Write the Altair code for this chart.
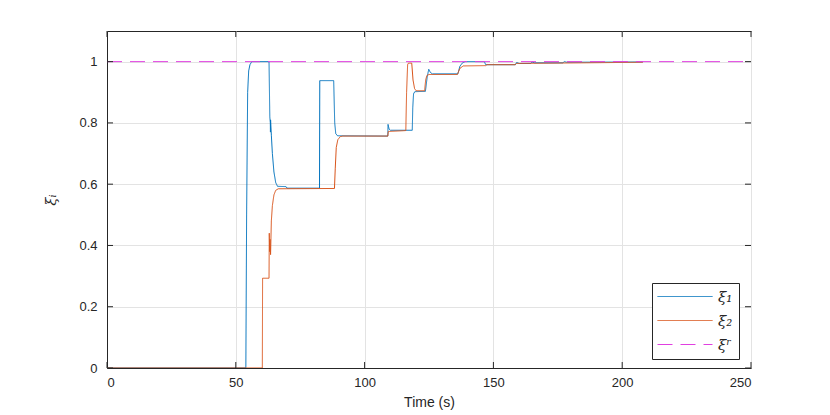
import altair as alt
import pandas as pd

# ---- data ----
t1 = [0, 53.9, 54.2, 54.6, 55.0, 55.5, 56.2, 62.9, 63.2, 63.4, 63.45, 63.5, 63.8, 64.2, 64.8, 65.5, 66.2,
      69.5, 69.9, 82.5, 82.6, 88.0, 88.4, 88.8, 89.5, 109.0, 109.1, 109.5, 110.0, 118.5, 118.7, 119.0, 119.5,
      123.6, 124.3, 124.9, 125.5, 126.3, 136.2, 137.0, 138.0, 139.0, 146.5, 147.0, 148.0, 158.5, 159.0, 160.0,
      164.5, 165.0, 166.0, 177.0, 177.5, 178.5, 208.0]
v1 = [0, 0, 0.5, 0.9, 0.97, 0.99, 1.0, 1.0, 0.82, 0.80, 0.77, 0.81, 0.76, 0.70, 0.64, 0.605, 0.593,
      0.592, 0.587, 0.587, 0.938, 0.938, 0.80, 0.765, 0.758, 0.757, 0.795, 0.78, 0.776, 0.776, 0.85, 0.895, 0.902,
      0.903, 0.95, 0.975, 0.965, 0.96, 0.96, 0.985, 0.996, 1.0, 1.0, 0.99, 0.99, 0.99, 0.997, 0.994,
      0.994, 0.999, 0.996, 0.996, 1.0, 0.998, 0.999]

t2 = [0, 60.3, 60.4, 62.9, 63.0, 63.15, 63.3, 63.5, 63.8, 64.2, 64.8, 65.5, 66.5, 88.3, 88.6, 89.0, 89.6,
      90.5, 91.5, 109.0, 109.2, 116.0, 116.3, 116.7, 117.0, 118.3, 118.8, 119.4, 120.0, 123.3, 123.7, 124.2,
      125.0, 136.0, 137.0, 138.3, 147.0, 147.5, 158.5, 159.0, 208.0]
v2 = [0, 0, 0.293, 0.293, 0.44, 0.38, 0.42, 0.37, 0.48, 0.53, 0.565, 0.58, 0.585, 0.586, 0.65, 0.72, 0.745,
      0.755, 0.757, 0.757, 0.772, 0.775, 0.90, 0.99, 0.995, 0.995, 0.94, 0.912, 0.905, 0.905, 0.94, 0.955,
      0.958, 0.958, 0.978, 0.986, 0.987, 0.99, 0.99, 0.994, 0.998]

tr = [0, 250]
vr = [1, 1]

series = ["ξ₁", "ξ₂", "ξʳ"]
colors = ["#0072BD", "#D95319", "#E040E0"]
dashes = [[1, 0], [1, 0], [15, 8]]

x_ticks = [0, 50, 100, 150, 200, 250]
y_ticks = [0, 0.2, 0.4, 0.6, 0.8, 1]

W, H = 644, 337

df1 = pd.DataFrame({"t": t1, "v": v1, "s": series[0]})
df2 = pd.DataFrame({"t": t2, "v": v2, "s": series[1]})
dfr = pd.DataFrame({"t": tr, "v": vr, "s": series[2]})

xs = alt.Scale(domain=[0, 250], nice=False)
ys = alt.Scale(domain=[0, 1.1], nice=False)

leg = alt.Legend(title=None, orient="none", legendX=545, legendY=252,
                 symbolType="M0,0H10", symbolSize=121, symbolStrokeWidth=1,
                 symbolFillColor="transparent", symbolOffset=-8,
                 labelFont="DejaVu Serif", labelFontStyle="italic", labelFontSize=15,
                 labelColor="#262626", labelOffset=53, rowPadding=8,
                 padding=6, strokeColor="#262626", fillColor="white",
                 cornerRadius=0)
color = alt.Color("s:N", scale=alt.Scale(domain=series, range=colors), legend=leg)
dash = alt.StrokeDash("s:N", scale=alt.Scale(domain=series, range=dashes), legend=leg)

def line(df):
    return alt.Chart(df).mark_line(strokeWidth=1, clip=True).encode(
        x=alt.X("t:Q", scale=xs, axis=alt.Axis(values=x_ticks, title="Time (s)", format="~f",
                                                 grid=True, tickSize=0, labelPadding=8,
                                                 titlePadding=6)),
        y=alt.Y("v:Q", scale=ys, axis=alt.Axis(values=y_ticks, title="ξᵢ", format="~f",
                                                 grid=True, tickSize=0, labelPadding=10,
                                                 titlePadding=20, titleFont="DejaVu Serif",
                                                 titleFontStyle="italic", titleFontSize=15,
                                                 titleFontWeight="normal")),
        color=color,
        strokeDash=dash,
    )

xt = pd.DataFrame({"t": x_ticks})
yt = pd.DataFrame({"v": y_ticks})
tick_style = dict(color="#262626", strokeWidth=1)
ticks = [
    alt.Chart(xt).mark_rule(**tick_style).encode(x=alt.X("t:Q", scale=xs), y=alt.value(H), y2=alt.value(H - 6)),
    alt.Chart(xt).mark_rule(**tick_style).encode(x=alt.X("t:Q", scale=xs), y=alt.value(0), y2=alt.value(6)),
    alt.Chart(yt).mark_rule(**tick_style).encode(y=alt.Y("v:Q", scale=ys), x=alt.value(0), x2=alt.value(6)),
    alt.Chart(yt).mark_rule(**tick_style).encode(y=alt.Y("v:Q", scale=ys), x=alt.value(W), x2=alt.value(W - 6)),
]

chart = alt.layer(line(df1), line(df2), line(dfr), *ticks).properties(
    width=W, height=H,
    autosize=alt.AutoSizeParams(type="none"),
    padding={"left": 99, "top": 23, "right": 70, "bottom": 45},
    background="white",
).configure_view(stroke="#262626", strokeWidth=1).configure_axis(
    domainColor="#262626", labelColor="#262626", titleColor="#262626",
    labelFont="Liberation Sans", labelFontSize=13, titleFont="Liberation Sans",
    titleFontSize=14, titleFontWeight="normal", gridColor="#e3e3e3", gridWidth=1,
)

chart.save("out.html", embed_options={"renderer": "svg", "actions": False})
